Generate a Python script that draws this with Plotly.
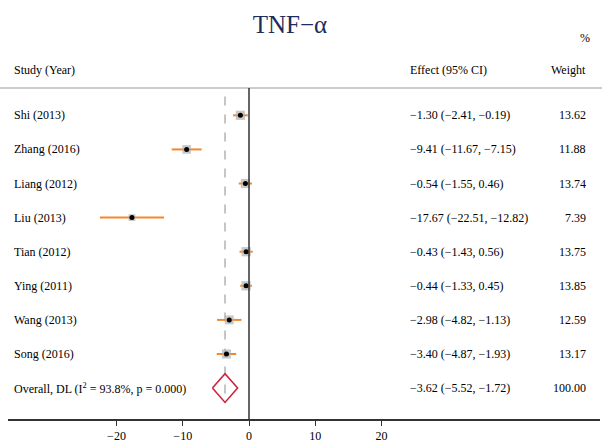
import plotly.graph_objects as go

studies = ["Shi (2013)", "Zhang (2016)", "Liang (2012)", "Liu (2013)", "Tian (2012)",
           "Ying (2011)", "Wang (2013)", "Song (2016)"]
effects = [-1.30, -9.41, -0.54, -17.67, -0.43, -0.44, -2.98, -3.40]
lower = [-2.41, -11.67, -1.55, -22.51, -1.43, -1.33, -4.82, -4.87]
upper = [-0.19, -7.15, 0.46, -12.82, 0.56, 0.45, -1.13, -1.93]
weights = [13.62, 11.88, 13.74, 7.39, 13.75, 13.85, 12.59, 13.17]

overall_label = "Overall, DL (I<sup>2</sup> = 93.8%, p = 0.000)"
overall_effect = -3.62
overall_lower = -5.52
overall_upper = -1.72
overall_weight = 100.00

tick_vals = [-20, -10, 0, 10, 20]

FONT = "Liberation Serif, Times New Roman, serif"
ORANGE = "#f5872a"
RED = "#d0213b"

n = len(studies)
rows = list(range(n))
overall_row = n

def fmt(v):
    return f"{v:.2f}".replace("-", "\u2212")

fig = go.Figure()

# CI lines
fig.add_trace(go.Scatter(
    x=effects, y=rows, mode="markers",
    marker=dict(size=1, color="rgba(0,0,0,0)"),
    error_x=dict(type="data", symmetric=False,
                 array=[u - e for u, e in zip(upper, effects)],
                 arrayminus=[e - l for e, l in zip(effects, lower)],
                 color=ORANGE, thickness=2, width=0),
    hoverinfo="skip", showlegend=False))

# weight squares
fig.add_trace(go.Scatter(
    x=effects, y=rows, mode="markers",
    marker=dict(symbol="square", size=[2.5 * w ** 0.5 for w in weights],
                color="#b0b0b0", line=dict(width=0)),
    hoverinfo="skip", showlegend=False))

# point estimates
fig.add_trace(go.Scatter(
    x=effects, y=rows, mode="markers",
    marker=dict(symbol="circle", size=5, color="black"),
    hoverinfo="skip", showlegend=False))

# overall diamond
h = 0.42
fig.add_trace(go.Scatter(
    x=[overall_lower, overall_effect, overall_upper, overall_effect, overall_lower],
    y=[overall_row, overall_row - h, overall_row, overall_row + h, overall_row],
    mode="lines", line=dict(color=RED, width=1.6),
    hoverinfo="skip", showlegend=False))

shapes = [
    # header line
    dict(type="line", xref="paper", yref="paper", x0=-8 / 592, x1=1 + 2 / 592, y0=1, y1=1,
         line=dict(color="#bbbbbb", width=1.5)),
    # zero line
    dict(type="line", xref="x", yref="paper", x0=0, x1=0, y0=0, y1=1,
         line=dict(color="#333333", width=1.5)),
    # overall dashed line
    dict(type="line", xref="x", yref="y", x0=overall_effect, x1=overall_effect,
         y0=-0.555, y1=8.44, line=dict(color="#a0a0a0", width=1.2, dash="dash"), layer="below"),
]

annotations = []
label_x = (12 - 8) / 592
eff_x = (408 - 8) / 592
w_x = (588 - 8) / 592
fs = 12
header_y = (421 - 70) / 333

for txt, xx, anc in [("Study (Year)", label_x, "left"),
                     ("Effect (95% CI)", eff_x, "left"),
                     ("Weight", w_x, "right")]:
    annotations.append(dict(x=xx, y=header_y, xref="paper", yref="paper", text=txt,
                            xanchor=anc, yanchor="middle", showarrow=False,
                            font=dict(family=FONT, size=fs, color="black")))
annotations.append(dict(x=(585 - 8) / 592, y=(421 - 38) / 333, xref="paper", yref="paper", text="%",
                        xanchor="center", yanchor="middle", showarrow=False,
                        font=dict(family=FONT, size=fs, color="black")))

all_labels = studies + [overall_label]
all_eff = effects + [overall_effect]
all_lo = lower + [overall_lower]
all_hi = upper + [overall_upper]
all_w = weights + [overall_weight]
for i in range(n + 1):
    annotations.append(dict(x=label_x, y=i, xref="paper", yref="y", text=all_labels[i],
                            xanchor="left", yanchor="middle", showarrow=False,
                            font=dict(family=FONT, size=fs, color="black")))
    annotations.append(dict(x=eff_x, y=i, xref="paper", yref="y",
                            text=f"{fmt(all_eff[i])} ({fmt(all_lo[i])}, {fmt(all_hi[i])})",
                            xanchor="left", yanchor="middle", showarrow=False,
                            font=dict(family=FONT, size=fs, color="black")))
    annotations.append(dict(x=w_x, y=i, xref="paper", yref="y", text=f"{all_w[i]:.2f}",
                            xanchor="right", yanchor="middle", showarrow=False,
                            font=dict(family=FONT, size=fs, color="black")))

zero_px = 249
scale = 6.625
fig.update_layout(
    width=602, height=445,
    margin=dict(l=8, r=2, t=88, b=24),
    paper_bgcolor="white", plot_bgcolor="white",
    title=dict(text="TNF\u2212\u03b1", x=290 / 602, xref="container", xanchor="center",
               y=1 - 24 / 445, yref="container", yanchor="middle",
               font=dict(family=FONT, size=25, color="#1d2d5a")),
    xaxis=dict(range=[(8 - zero_px) / scale, (600 - zero_px) / scale],
               tickvals=tick_vals, ticktext=[str(v).replace("-", "\u2212") for v in tick_vals],
               showgrid=False, zeroline=False, showline=True, linecolor="#333333", linewidth=1.5,
               ticks="outside", ticklen=5, tickwidth=1.2, tickcolor="#333333",
               tickfont=dict(family=FONT, size=12, color="black"), fixedrange=True),
    yaxis=dict(range=[(421 - 115.5) / 34.3, (88 - 115.5) / 34.3], visible=False,
               showgrid=False, zeroline=False, fixedrange=True),
    shapes=shapes, annotations=annotations, showlegend=False,
)

fig.write_html("out.html")
